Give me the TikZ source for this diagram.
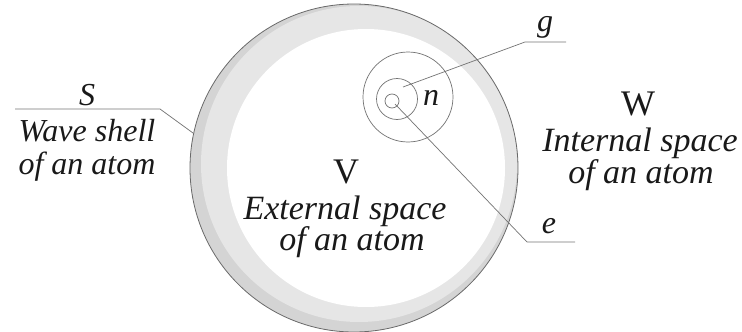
\documentclass[tikz,border=0pt]{standalone}
\usepackage{fontspec}
\setmainfont{Liberation Serif}
\definecolor{ShellDark}{RGB}{212,212,212}
\definecolor{ShellLight}{RGB}{230,230,230}
\definecolor{RimGray}{RGB}{105,105,105}
\definecolor{LeadGray}{RGB}{115,115,115}
\definecolor{TextInk}{RGB}{25,25,25}

\begin{document}
\begin{tikzpicture}[
  x=1pt, y=-1pt,
  orb/.style={draw=LeadGray, line width=0.7pt},
  leader/.style={draw=LeadGray, line width=0.7pt},
  title/.style={anchor=base, inner sep=0pt, text=TextInk, font=\fontsize{36}{36}\selectfont},
  caption/.style={anchor=base, inner sep=0pt, text=TextInk, font=\fontsize{34}{34}\selectfont\itshape},
  smallcap/.style={anchor=base, inner sep=0pt, text=TextInk, font=\fontsize{32}{32}\selectfont\itshape}
]
\useasboundingbox (0,0) rectangle (742,332);

\coordinate (atom) at (354,168);
\coordinate (shade) at (359,164);
\coordinate (core) at (366,168);
\fill[ShellDark] (atom) circle[radius=164pt];
\fill[ShellLight] (shade) circle[radius=158pt];
\fill[white] (core) circle[radius=139pt];
\draw[RimGray, line width=0.8pt] (atom) circle[radius=164pt];

\coordinate (gshell) at (408,97);
\coordinate (nshell) at (397,99);
\coordinate (ecore) at (392,101);
\draw[orb] (gshell) circle[radius=45pt];
\draw[orb] (nshell) circle[radius=20.5pt];
\draw[orb] (ecore) circle[radius=7pt];

\node[smallcap] (nlab) at (431,105) {n};
\node[smallcap] (glab) at (545,31) {g};
\node[smallcap] (elab) at (549,233) {e};
\node[smallcap] (slab) at (87,105) {S};
\node[smallcap] (stxt1) at (87,141) {Wave shell};
\node[smallcap] (stxt2) at (87,174) {of an atom};

\node[title] (vlab) at (346,183) {V};
\node[caption] (vtxt1) at (345,219) {External space};
\node[caption] (vtxt2) at (352,250) {of an atom};

\node[title] (wlab) at (638,115) {W};
\node[caption] (wtxt1) at (640,151) {Internal space};
\node[caption] (wtxt2) at (641,183) {of an atom};

\coordinate (gfoot) at (403,87);
\coordinate (gknee) at (525,42);
\coordinate (gend) at (566,42);
\coordinate (efoot) at (395,104);
\coordinate (eknee) at (527,242);
\coordinate (eend) at (575,242);
\coordinate (sfoot) at (193,133);
\coordinate (sknee) at (160,109);
\coordinate (send) at (15,109);

\draw[leader] (gfoot) -- (gknee) -- (gend);
\draw[leader] (efoot) -- (eknee) -- (eend);
\draw[leader] (sfoot) -- (sknee) -- (send);
\end{tikzpicture}
\end{document}
